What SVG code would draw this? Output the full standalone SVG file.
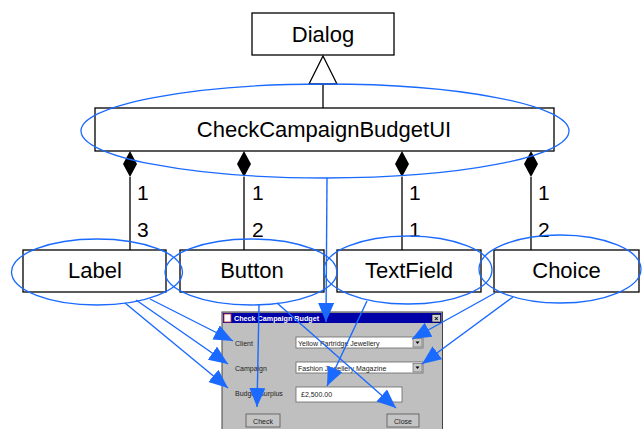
<svg xmlns="http://www.w3.org/2000/svg" width="642" height="429" viewBox="0 0 642 429">
<defs>
<style>
.box{fill:#fff;stroke:#000;stroke-width:1.3}
.lbl{font-family:"Liberation Sans",Arial,sans-serif;font-size:22px;fill:#000}
.mult{font-family:"Liberation Sans",Arial,sans-serif;font-size:21px;fill:#000}
.ln{stroke:#000;stroke-width:1.3;fill:none}
.ell{fill:none;stroke:#1a6aff;stroke-width:1.3}
.bl{stroke:#1a6aff;stroke-width:1.4;fill:none;marker-end:url(#ah)}
.ui{font-family:"Liberation Sans",Arial,sans-serif;font-size:7px;fill:#222}
</style>
<marker id="ah" markerUnits="userSpaceOnUse" markerWidth="20" markerHeight="17" refX="19" refY="8" orient="auto" viewBox="0 0 20 17">
<path d="M0,0 L19,8 L0,16 z" fill="#1a6aff"/>
</marker>
</defs>
<rect width="642" height="429" fill="#fff"/>

<g id="screenshot">
<rect x="222" y="312" width="220.5" height="125" fill="#bfbfbf" stroke="#444" stroke-width="1"/>
<rect x="223" y="313" width="218.5" height="10" fill="#0000a8"/>
<rect x="224" y="314" width="7" height="8" fill="#fff" stroke="#c33" stroke-width="0.8"/>
<text x="234" y="320.5" style="font-family:'Liberation Sans',Arial,sans-serif;font-size:7.2px;font-weight:bold;fill:#fff">Check Campaign Budget</text>
<rect x="432" y="314.5" width="8.5" height="7.5" fill="#d0d0d0" stroke="#000" stroke-width="0.6"/>
<text x="436.2" y="321" text-anchor="middle" style="font-family:'Liberation Sans',Arial,sans-serif;font-size:7px;font-weight:bold;fill:#000">×</text>
<text class="ui" x="235" y="346">Client</text>
<text class="ui" x="235" y="371">Campaign</text>
<text class="ui" x="235" y="396">Budget Surplus</text>
<rect x="296" y="337" width="127" height="11" fill="#fff" stroke="#666" stroke-width="0.8"/>
<rect x="413" y="338.5" width="9" height="8.5" fill="#c8c8c8" stroke="#555" stroke-width="0.6"/>
<path d="M415.5,341.5 L419.5,341.5 L417.5,344 z" fill="#000"/>
<text class="ui" x="298" y="345.5">Yellow Partridge Jewellery</text>
<rect x="296" y="362" width="127" height="11" fill="#fff" stroke="#666" stroke-width="0.8"/>
<rect x="413" y="363.5" width="9" height="8.5" fill="#c8c8c8" stroke="#555" stroke-width="0.6"/>
<path d="M415.5,366.5 L419.5,366.5 L417.5,369 z" fill="#000"/>
<text class="ui" x="298" y="370.5">Fashion Jewellery Magazine</text>
<rect x="296" y="387" width="106" height="15" fill="#fff" stroke="#666" stroke-width="0.8"/>
<text class="ui" x="301" y="397">£2,500.00</text>
<rect x="246" y="414" width="34" height="13" fill="#c4c4c4" stroke="#555" stroke-width="0.8"/>
<text class="ui" x="263" y="423.5" text-anchor="middle">Check</text>
<rect x="387" y="414" width="32" height="13" fill="#c4c4c4" stroke="#555" stroke-width="0.8"/>
<text class="ui" x="403" y="423.5" text-anchor="middle">Close</text>
</g>

<g id="Dialog">
<rect class="box" x="252" y="13" width="142" height="42"/>
<text class="lbl" x="323" y="42" text-anchor="middle">Dialog</text>
</g>
<g id="CheckCampaignBudgetUI">
<rect class="box" x="95" y="108" width="459" height="43"/>
<text class="lbl" x="324" y="137" text-anchor="middle">CheckCampaignBudgetUI</text>
</g>
<g id="Label">
<rect class="box" x="23" y="250" width="143" height="42"/>
<text class="lbl" x="95" y="278" text-anchor="middle">Label</text>
</g>
<g id="Button">
<rect class="box" x="180" y="250" width="144" height="42"/>
<text class="lbl" x="252" y="278" text-anchor="middle">Button</text>
</g>
<g id="TextField">
<rect class="box" x="337" y="250" width="144" height="42"/>
<text class="lbl" x="409" y="278" text-anchor="middle">TextField</text>
</g>
<g id="Choice">
<rect class="box" x="494" y="250" width="145" height="42"/>
<text class="lbl" x="566.5" y="278" text-anchor="middle">Choice</text>
</g>

<g id="connectors">
<path class="ln" d="M323,84 V108"/>
<path d="M323,56 L337,84 L309,84 z" fill="#fff" stroke="#000" stroke-width="1.3"/>
<path class="ln" d="M130,177 V250 M244,177 V250 M402,177 V250 M531,177 V250"/>
<path d="M130,151 L137,164 L130,177 L123,164 z M244,151 L251,164 L244,177 L237,164 z M402,151 L409,164 L402,177 L395,164 z M531,151 L538,164 L531,177 L524,164 z" fill="#000"/>
<text class="mult" x="137" y="200">1</text>
<text class="mult" x="137" y="237">3</text>
<text class="mult" x="252" y="200">1</text>
<text class="mult" x="252" y="237">2</text>
<text class="mult" x="409" y="200">1</text>
<text class="mult" x="409" y="237">1</text>
<text class="mult" x="538" y="200">1</text>
<text class="mult" x="538" y="237">2</text>
</g>

<g id="highlights">
<ellipse class="ell" cx="325" cy="131" rx="244" ry="47"/>
<ellipse class="ell" cx="97" cy="272" rx="85.5" ry="33"/>
<ellipse class="ell" cx="251" cy="272" rx="86" ry="33"/>
<ellipse class="ell" cx="408" cy="270" rx="84" ry="34"/>
<ellipse class="ell" cx="560" cy="269" rx="81" ry="34"/>
</g>

<g id="blue-connectors">
<path class="bl" d="M327,178 L326,322"/>
<path class="bl" d="M150,299 L233,341"/>
<path class="bl" d="M136,300 L228,364"/>
<path class="bl" d="M125,303 L228,388"/>
<path class="bl" d="M259,305 L257,407"/>
<path class="bl" d="M277,303 L396,408"/>
<path class="bl" d="M367,301 L327,386"/>
<path class="bl" d="M495,293 L412,339"/>
<path class="bl" d="M513,297 L422,364"/>
</g>
</svg>
